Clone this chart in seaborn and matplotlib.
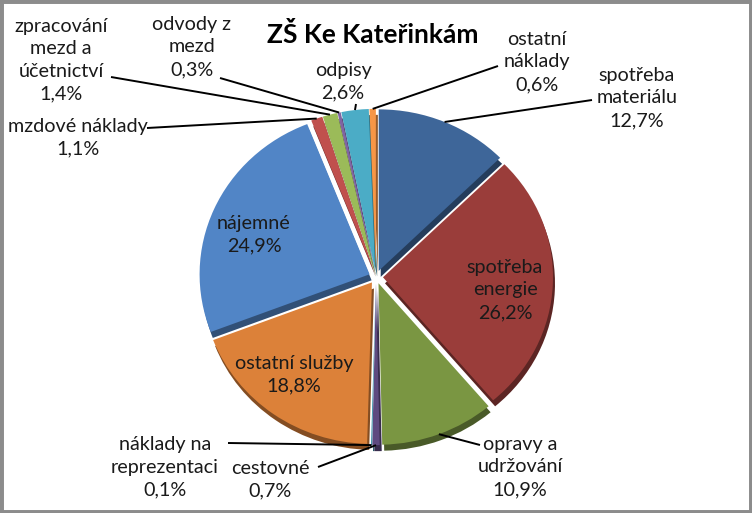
import matplotlib
matplotlib.use("Agg")
import matplotlib.pyplot as plt
import seaborn as sns
import numpy as np
from matplotlib.patches import Rectangle

# ---- data (clockwise from 12 o'clock) ----
categories = ["spotřeba\nmateriálu", "spotřeba\nenergie", "opravy a\nudržování", "cestovné",
              "náklady na\nreprezentaci", "ostatní služby", "nájemné", "mzdové náklady",
              "zpracování\nmezd a\núčetnictví", "odvody z\nmezd", "odpisy", "ostatní\nnáklady"]
values = [12.7, 26.2, 10.9, 0.7, 0.1, 18.8, 24.9, 1.1, 1.4, 0.3, 2.6, 0.6]
value_labels = ["12,7%", "26,2%", "10,9%", "0,7%", "0,1%", "18,8%", "24,9%", "1,1%", "1,4%",
                "0,3%", "2,6%", "0,6%"]
colors = ["#3e6699", "#9a3d3a", "#7a9642", "#5e4a80", "#2f8aa3", "#dc8139",
          "#5185c6", "#c0504d", "#9bbb59", "#8064a2", "#4bacc6", "#f79646"]
title = "ZŠ Ke Kateřinkám"

sns.set_theme(style="white")
plt.rcParams['font.family'] = ['Lato', 'DejaVu Sans']

W, H = 752, 513
K = 0.95  # vertical squash of the tilted pie
fig = plt.figure(figsize=(W / 100, H / 100), dpi=100)
ax = fig.add_axes([0, 0, 1, 1])

def Y(img_y):
    return (H - img_y) / K

cx, cy, R = 376, Y(277), 170
explode = [7] * len(values)

def darken(c, f=0.6):
    r, g, b = matplotlib.colors.to_rgb(c)
    return (r * f, g * f, b * f)

# depth (3D-like underside)
ax.pie(values, colors=[darken(c) for c in colors], startangle=90, counterclock=False,
       explode=explode, center=(cx + 2, cy - 6 / K), radius=R, normalize=True,
       wedgeprops=dict(linewidth=0))
wedges, _ = ax.pie(values, colors=colors, startangle=90, counterclock=False,
                   explode=explode, center=(cx, cy), radius=R, normalize=True,
                   wedgeprops=dict(linewidth=0))
ax.set_xlim(0, W)
ax.set_ylim(0, H / K)
ax.set_aspect('auto')
ax.axis('off')

fs = 14.2
txt_color = "#1a1a1a"

# label positions (image pixel coords: x, y of text center) and whether leader
label_pos = {
    0: (637, 98, True),
    1: (505, 290, False),
    2: (520, 467, True),
    3: (270, 480, True),
    4: (165, 467, True),
    5: (294, 375, False),
    6: (254, 235, False),
    7: (78, 138, True),
    8: (61, 60, True),
    9: (192, 47, True),
    10: (343, 82, True),
    11: (537, 62, True),
}
# leader line start points near text (image px)
leader_start = {
    0: (592, 100), 2: (480, 445), 3: (318, 467), 4: (228, 443),
    7: (147, 128), 8: (111, 77), 9: (220, 78), 10: (356, 104), 11: (498, 66),
}

for i, (x, y, lead) in label_pos.items():
    ax.text(x, Y(y), f"{categories[i]}\n{value_labels[i]}", ha='center', va='center',
            fontsize=fs, color=txt_color, linespacing=1.4)
    if lead:
        w = wedges[i]
        ang = np.deg2rad((w.theta1 + w.theta2) / 2)
        wc = w.center
        r = w.r
        ex, ey = wc[0] + r * np.cos(ang), wc[1] + r * np.sin(ang)
        sx, sy = leader_start[i]
        ax.plot([sx, ex], [Y(sy), ey], color="black", lw=1.4, solid_capstyle='butt')

ax.text(373, Y(35), title, ha='center', va='center', fontsize=19, fontweight='bold',
        color="black")

fig.patches.append(Rectangle((0, 0), 1, 1, transform=fig.transFigure, fill=False,
                             edgecolor="#8c8c8c", linewidth=5))
fig.savefig("out.png", dpi=100)
